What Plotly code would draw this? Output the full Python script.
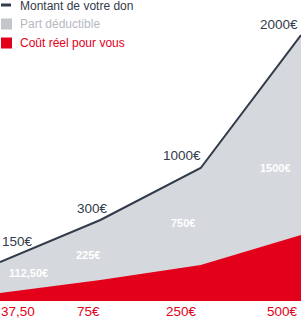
import plotly.graph_objects as go

# --- data ---
steps = [0, 1, 2, 3]
don_labels = ["150€", "300€", "1000€", "2000€"]
deductible_labels = ["112,50€", "225€", "750€", "1500€"]
cout_labels = ["37,50", "75€", "250€", "500€"]
# schematic heights of the curves as drawn (chart is illustrative, not to scale)
don_level = [39, 81, 133, 266]
cout_level = [8, 21, 36, 66]

DARK = "#323b4a"
GRAY = "#d5d8dc"
RED = "#e2001a"
FONT = "Liberation Sans, Arial, Helvetica, sans-serif"

fig = go.Figure()
fig.add_trace(go.Scatter(x=steps, y=don_level, mode="none", fill="tozeroy",
                         fillcolor=GRAY, hoverinfo="skip"))
fig.add_trace(go.Scatter(x=steps, y=cout_level, mode="none", fill="tozeroy",
                         fillcolor=RED, hoverinfo="skip"))
fig.add_trace(go.Scatter(x=steps, y=don_level, mode="lines",
                         line=dict(color=DARK, width=2), hoverinfo="skip"))

anns = []
# donation labels above the line
don_pos = [("left", 0, 21), ("center", -8, 12), ("right", 2, 13), ("right", -1, 11)]
for x, y, t, (xa, xs, ys) in zip(steps, don_level, don_labels, don_pos):
    anns.append(dict(x=x, y=y, text=t, showarrow=False, xanchor=xa, yanchor="middle",
                     xshift=xs, yshift=ys, font=dict(family=FONT, size=13.5, color=DARK)))
# deductible labels inside grey area
ded_pos = [(28, 20), (-12, 25), (-18, 42), (-26, 67)]
for x, y, t, (xs, ys) in zip(steps, cout_level, deductible_labels, ded_pos):
    anns.append(dict(x=x, y=y, text="<b>%s</b>" % t, showarrow=False, xanchor="center",
                     yanchor="middle", xshift=xs, yshift=ys,
                     font=dict(family=FONT, size=11, color="white")))
# cost labels below the axis
cost_pos = [("left", 0), ("center", -12), ("center", -19), ("right", -2)]
for x, t, (xa, xs) in zip(steps, cout_labels, cost_pos):
    anns.append(dict(x=x, y=0, text=t, showarrow=False, xanchor=xa, yanchor="top",
                     xshift=xs, yshift=-2, borderpad=0,
                     font=dict(family=FONT, size=13.5, color=RED)))

# legend (manual)
legend_items = [("Montant de votre don", DARK, "line"),
                ("Part déductible", "#c3c6cb", "square"),
                ("Coût réel pour vous", RED, "square")]
shapes = []
leg_y = [6, 24, 43]
for (txt, col, kind), yy in zip(legend_items, leg_y):
    if kind == "line":
        shapes.append(dict(type="line", xref="paper", yref="paper", x0=1/301, x1=11/301,
                           y0=(301 - 5) / 301, y1=(301 - 5) / 301,
                           line=dict(color=col, width=3)))
    else:
        shapes.append(dict(type="rect", xref="paper", yref="paper",
                           x0=1/301, x1=12/301,
                           y0=(301 - yy - 5.5) / 301, y1=(301 - yy + 5.5) / 301,
                           line=dict(width=0), fillcolor=col))
    txtcol = "#b5b9bf" if kind == "square" and col != RED else col
    anns.append(dict(xref="paper", yref="paper", x=19/301, y=(301 - yy) / 301,
                     text=txt, showarrow=False, xanchor="left", yanchor="middle",
                     borderpad=0,
                     font=dict(family=FONT, size=12, color=txtcol)))

fig.update_layout(
    width=301, height=320,
    margin=dict(l=0, r=0, t=0, b=19),
    paper_bgcolor="white", plot_bgcolor="white",
    showlegend=False,
    xaxis=dict(range=[0, 3], visible=False, fixedrange=True),
    yaxis=dict(range=[0, 301], visible=False, fixedrange=True),
    annotations=anns, shapes=shapes,
)
fig.write_html("out.html")
